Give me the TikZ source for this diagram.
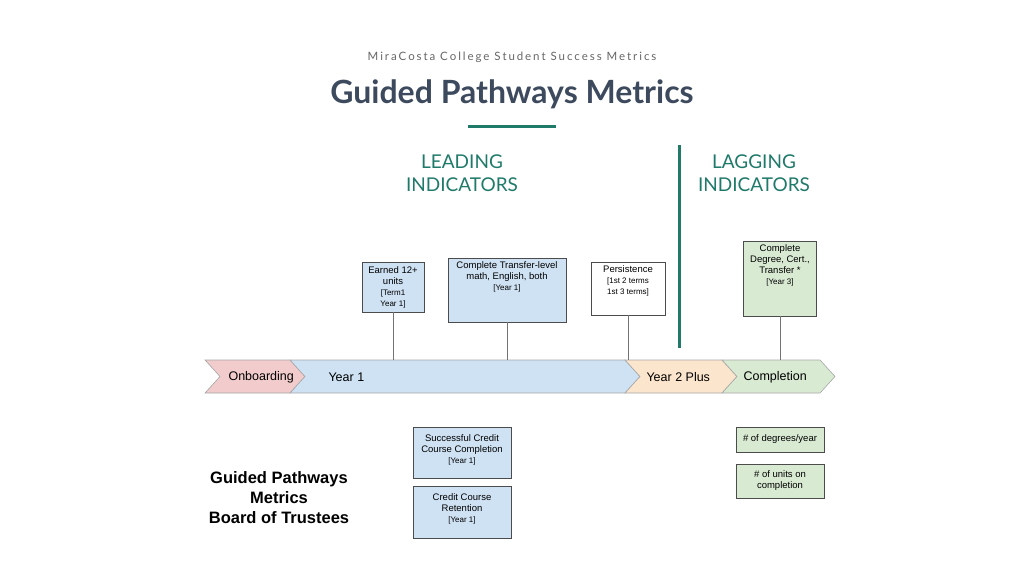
\documentclass[tikz,border=0pt]{standalone}
\usepackage{fontspec}
\setmainfont{Liberation Sans}
\newfontfamily\latofont{Lato}
\usetikzlibrary{positioning}
\definecolor{teal1}{HTML}{1F7A6A}
\definecolor{slate}{HTML}{3D4A5E}
\definecolor{pinkfill}{HTML}{F2CCCC}
\definecolor{bluefill}{HTML}{CFE2F3}
\definecolor{orangefill}{HTML}{FCE5CD}
\definecolor{greenfill}{HTML}{D9EAD3}
\tikzset{
  metric/.style={draw=black!70, align=center, font=\fontsize{9.5}{11}\selectfont, inner sep=0pt},
  chev/.style={draw=black!35, line width=0.6pt},
  stem/.style={draw=black!55, line width=0.5pt},
  phase/.style={font=\fontsize{12.5}{14}\selectfont, anchor=west}
}
\newcommand{\sm}[1]{{\fontsize{8}{10}\selectfont #1}}
\begin{document}
\begin{tikzpicture}[x=1pt,y=-1pt]
\useasboundingbox (0,0) rectangle (1024,576);

% Headers
\node[font=\latofont\fontsize{11.5}{13}\selectfont, text=black!60] (sub) at (512,57) {M\,i\,r\,a\,C\,o\,s\,t\,a\, C\,o\,l\,l\,e\,g\,e\, S\,t\,u\,d\,e\,n\,t\, S\,u\,c\,c\,e\,s\,s\, M\,e\,t\,r\,i\,c\,s};
\node[font=\latofont\bfseries\fontsize{32}{36}\selectfont, text=slate] (title) at (512,94) {Guided Pathways Metrics};
\draw[teal1, line width=3pt] (468,126) -- (556,126);
\node[font=\latofont\fontsize{19}{23}\selectfont, text=teal1, align=center] (lead) at (462,173) {LEADING\\INDICATORS};
\node[font=\latofont\fontsize{19}{23}\selectfont, text=teal1, align=center] (lag) at (754,173) {LAGGING\\INDICATORS};
\draw[teal1, line width=3pt] (679,145) -- (679,348);

% Timeline chevrons
\draw[chev, fill=pinkfill] (205,360) -- (290,360) -- (305,376.5) -- (290,393) -- (205,393) -- (220,376.5) -- cycle;
\draw[chev, fill=bluefill] (290,360) -- (625,360) -- (640,376.5) -- (625,393) -- (290,393) -- (305,376.5) -- cycle;
\draw[chev, fill=orangefill] (625,360) -- (722,360) -- (737,376.5) -- (722,393) -- (625,393) -- (640,376.5) -- cycle;
\draw[chev, fill=greenfill] (722,360) -- (820,360) -- (835,376.5) -- (820,393) -- (722,393) -- (737,376.5) -- cycle;
\node[phase] (onb) at (225,377) {Onboarding};
\node[phase] (y1) at (325,377) {Year 1};
\node[phase] (y2) at (643,377) {Year 2 Plus};
\node[phase] (comp) at (740,377) {Completion};

% Metrics above
\node[metric, fill=bluefill, minimum width=62pt, minimum height=50pt] (earned) at (393,287) {Earned 12+\\units\\\sm{[Term1}\\\sm{Year 1]}};
\node[metric, fill=bluefill, minimum width=118pt, minimum height=64pt, anchor=north] (transfer) at (507,258) {\rule{0pt}{10pt}Complete Transfer-level\\math, English, both\\\sm{[Year 1]}\\[20pt]};
\node[metric, fill=white, minimum width=74pt, minimum height=50pt, anchor=north] (persist) at (628,262) {\rule{0pt}{10pt}Persistence\\\sm{[1st 2 terms}\\\sm{1st 3 terms]}\\[10pt]};
\node[metric, fill=greenfill, minimum width=73pt, minimum height=75pt, anchor=north] (degree) at (780,241) {\rule{0pt}{10pt}Complete\\Degree, Cert.,\\Transfer *\\\sm{[Year 3]}\\[20pt]};
\draw[stem] (earned.south) -- (393,360);
\draw[stem] (transfer.south) -- (507,360);
\draw[stem] (persist.south) -- (628,360);
\draw[stem] (degree.south) -- (780,360);

% Metrics below
\node[metric, fill=bluefill, minimum width=98pt, minimum height=51pt, anchor=north] (success) at (462,427) {\rule{0pt}{12pt}Successful Credit\\Course Completion\\\sm{[Year 1]}\\[2pt]};
\node[metric, fill=bluefill, minimum width=98pt, minimum height=52pt, anchor=north] (retain) at (462,486) {\rule{0pt}{12pt}Credit Course\\Retention\\\sm{[Year 1]}\\[2pt]};
\node[metric, fill=greenfill, minimum width=88pt, minimum height=25pt] (degyear) at (780,439.5) {\# of degrees/year};
\node[metric, fill=greenfill, minimum width=88pt, minimum height=34pt] (units) at (780,481) {\# of units on\\completion};

% Side caption
\node[font=\bfseries\fontsize{16.5}{20}\selectfont, align=center] (cap) at (279,498) {Guided Pathways\\Metrics\\Board of Trustees};
\end{tikzpicture}
\end{document}
